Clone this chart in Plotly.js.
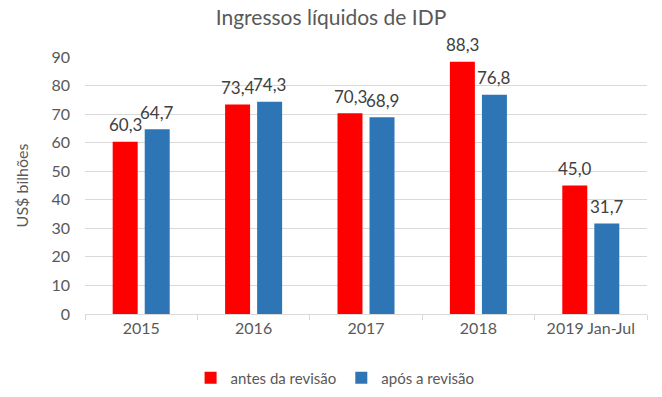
<!DOCTYPE html>
<html>
<head>
<meta charset="utf-8">
<script src="https://cdn.plot.ly/plotly-3.0.1.min.js"></script>
<style>html,body{margin:0;padding:0;background:#fff;}#chart{width:662px;height:397px;}</style>
</head>
<body>
<div id="chart"></div>
<script>
const categories = ["2015", "2016", "2017", "2018", "2019 Jan-Jul"];
const antes = [60.3, 73.4, 70.3, 88.3, 45.0];
const apos = [64.7, 74.3, 68.9, 76.8, 31.7];
const seriesNames = ["antes da revisão", "após a revisão"];
const yTicks = [0, 10, 20, 30, 40, 50, 60, 70, 80, 90];

const font = "Lato, 'Open Sans', sans-serif";
const fmt = v => v.toFixed(1).replace(".", ",");

const common = {
  type: "bar",
  x: categories,
  hoverinfo: "none"
};
const data = [
  Object.assign({}, common, {name: seriesNames[0], y: antes, marker: {color: "#ff0000"}}),
  Object.assign({}, common, {name: seriesNames[1], y: apos, marker: {color: "#2e75b6"}})
];

const annotations = [];
[[antes, -16], [apos, 16]].forEach(([vals, dx]) => {
  vals.forEach((v, i) => {
    annotations.push({
      x: i, y: v, xref: "x", yref: "y",
      text: fmt(v), showarrow: false,
      xanchor: "center", yanchor: "middle",
      xshift: dx, yshift: 17,
      font: {family: font, size: 17, color: "#404040"}
    });
  });
});

const layout = {
  width: 662, height: 397,
  margin: {l: 85, r: 15, t: 57, b: 83, autoexpand: false},
  paper_bgcolor: "#fff", plot_bgcolor: "#fff",
  font: {family: font, color: "#595959", size: 15},
  title: {text: "Ingressos líquidos de IDP", font: {family: font, size: 21, color: "#595959"}, x: 0.5, xanchor: "center", y: 0.955, yanchor: "middle"},
  barmode: "group",
  bargap: 0.43,
  bargroupgap: 0.22,
  showlegend: true,
  legend: {orientation: "h", x: 0.445, xanchor: "center", yref: "container", y: 0.048, yanchor: "middle", font: {family: font, size: 15, color: "#595959"}, itemwidth: 30, traceorder: "normal"},
  annotations: annotations,
  xaxis: {
    type: "category",
    categoryorder: "array", categoryarray: categories,
    range: [-0.5, categories.length - 0.5],
    showline: true, linecolor: "#d9d9d9", linewidth: 1,
    ticks: "outside", tickson: "boundaries", ticklen: 5, tickcolor: "#d9d9d9",
    tickfont: {family: font, size: 16, color: "#595959"},
    showgrid: false, fixedrange: true
  },
  yaxis: {
    range: [0, 90],
    tickvals: yTicks,
    ticktext: yTicks.map(String),
    showgrid: true, gridcolor: "#d9d9d9", gridwidth: 1,
    zeroline: true, zerolinecolor: "#d9d9d9",
    showline: false,
    ticks: "", ticklabelstandoff: 14,
    tickfont: {family: font, size: 16, color: "#595959"},
    title: {text: "US$ bilhões", font: {family: font, size: 16, color: "#595959"}, standoff: 18},
    fixedrange: true
  }
};
Plotly.newPlot("chart", data, layout, {displayModeBar: false, staticPlot: true});
</script>
</body>
</html>
